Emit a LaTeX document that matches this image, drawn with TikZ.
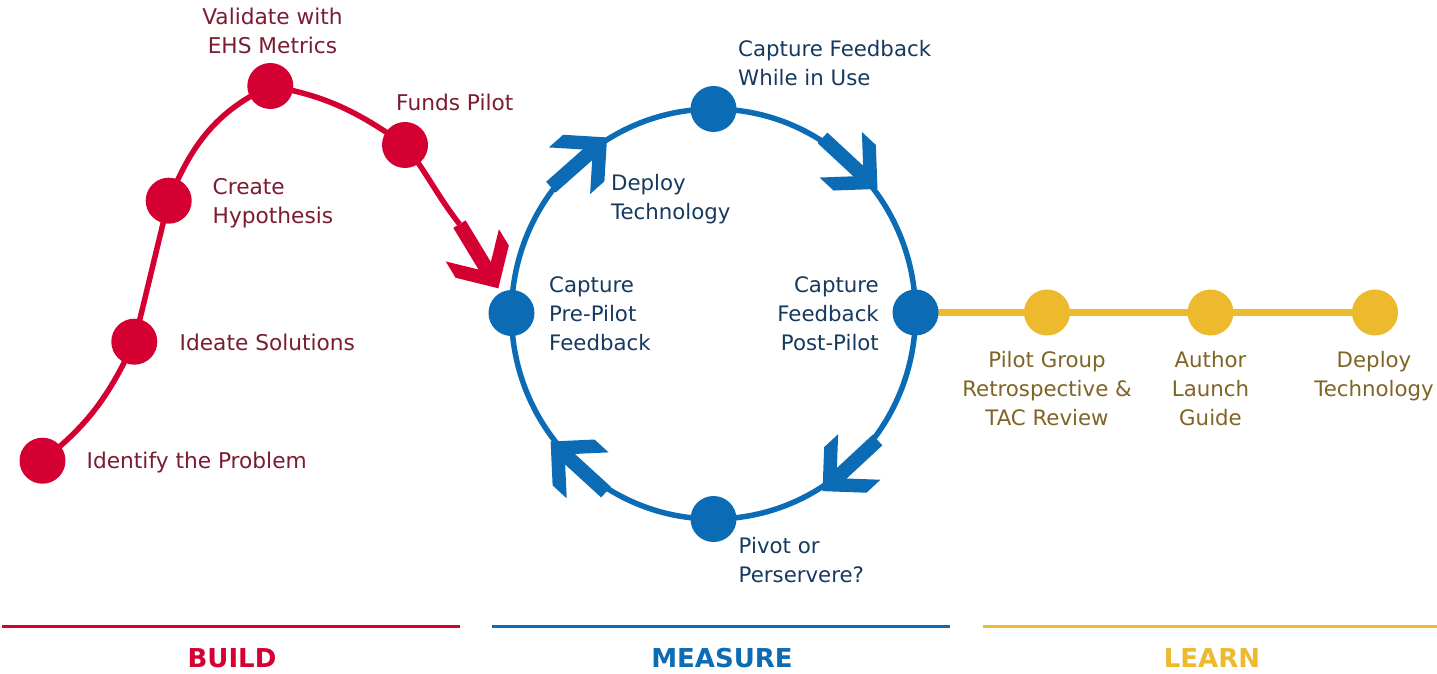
\documentclass[tikz,border=0pt]{standalone}
\usepackage{fontspec}
\setmainfont{DejaVu Sans}
\pgfdeclarelayer{bg}
\pgfsetlayers{bg,main}
\definecolor{redC}{HTML}{D50032}
\definecolor{redT}{HTML}{7B1C32}
\definecolor{blueC}{HTML}{0B6CB5}
\definecolor{blueT}{HTML}{163A5F}
\definecolor{yelC}{HTML}{EDBA2D}
\definecolor{yelT}{HTML}{7F6426}
\newcommand{\tp}{\rule{0pt}{17pt}}
\tikzset{
  chev/.pic={
    \fill (-37.5,-7.2) rectangle (21,7.2);
    \fill (37.5,0) -- (6.4,31.1) -- (-12.7,31.1) -- (18.4,0) -- (-12.7,-31.1) -- (6.4,-31.1) -- cycle;
  }
}
\begin{document}
\begin{tikzpicture}[x=1pt,y=1pt,
  dot/.style={circle, inner sep=0pt, minimum size=46pt, fill=#1},
  lbl/.style={inner sep=0pt, font=\fontsize{21.3}{29}\selectfont, text=#1},
  rlbl/.style={inner sep=0pt, font=\fontsize{21.7}{29}\selectfont, text=redT},
  big/.style={inner sep=0pt, font=\fontsize{26}{30}\selectfont\bfseries, text=#1},
  rule/.style={line width=3pt, #1}]
\useasboundingbox (0,0) rectangle (1437,673);

% ---------- BUILD ----------
\node[dot=redC] (id)   at (42.5,212.3) {};
\node[dot=redC] (ide)  at (134.3,331.3) {};
\node[dot=redC] (cre)  at (168.7,472.3) {};
\node[dot=redC] (val)  at (270.3,587) {};
\node[dot=redC] (fund) at (405,528) {};
\coordinate (rend) at (459.5,448.9);

\node[rlbl, anchor=north west] (tid) at (86.5,221.7) {\tp Identify the Problem};
\node[rlbl, anchor=north west] (tide) at (179.5,339.5) {\tp Ideate Solutions};
\node[rlbl, anchor=north west, align=left] (tcre) at (212.5,496) {\tp Create\\Hypothesis};
\node[rlbl, anchor=north, align=center] (tval) at (272.5,666) {\tp Validate with\\EHS Metrics};
\node[rlbl, anchor=north west] (tfund) at (396,579.3) {\tp Funds Pilot};

% ---------- MEASURE ----------
\coordinate (mc) at (713.5,359);
\node[dot=blueC] (ml) at (511.5,360) {};
\node[dot=blueC] (mr) at (915.5,360.5) {};
\node[dot=blueC] (mt) at (713.5,564) {};
\node[dot=blueC] (mb) at (713.5,154) {};

\node[lbl=blueT, anchor=north west, align=left] (tmt) at (738,634) {\tp Capture Feedback\\While in Use};
\node[lbl=blueT, anchor=north west, align=left] (tdep) at (611,500) {\tp Deploy\\Technology};
\node[lbl=blueT, anchor=north west, align=left] (tml) at (549,397.7) {\tp Capture\\Pre-Pilot\\Feedback};
\node[lbl=blueT, anchor=north east, align=right] (tmr) at (879,397.7) {\tp Capture\\Feedback\\Post-Pilot};
\node[lbl=blueT, anchor=north west, align=left] (tmb) at (738.5,136.7) {\tp Pivot or\\Perservere?};

% ---------- LEARN ----------
\node[dot=yelC] (y1) at (1047,360.5) {};
\node[dot=yelC] (y2) at (1210.5,360.5) {};
\node[dot=yelC] (y3) at (1375,360.5) {};

\node[lbl=yelT, anchor=north, align=center] (ty1) at (1047,322.7) {\tp Pilot Group\\Retrospective \&\\TAC Review};
\node[lbl=yelT, anchor=north, align=center] (ty2) at (1210.5,322.7) {\tp Author\\Launch\\Guide};
\node[lbl=yelT, anchor=north, align=center] (ty3) at (1374,322.7) {\tp Deploy\\Technology};

% ---------- connectors ----------
\begin{pgfonlayer}{bg}
  \fill[white] (0,0) rectangle (1437,673);
  \draw[redC, line width=5.5pt] (id.center) to[out=38,in=-115] (ide.center)
     to[out=76,in=-104] (cre.center) to[out=68,in=-155] (val.center)
     to[out=-10,in=145] (fund.center) to[out=-52,in=128] (rend);
  \pic[color=redC, rotate=-58.8] at (478.9,416.8) {chev};
  \draw[blueC, line width=5.5pt] (mc) ellipse [x radius=202, y radius=205];
  \pic[color=blueC, rotate=41.5]   at (579,510.7) {chev};
  \pic[color=blueC, rotate=-42.9]  at (850,509.6) {chev};
  \pic[color=blueC, rotate=-137.1] at (850,207.4) {chev};
  \pic[color=blueC, rotate=137.6]  at (578.3,206.2) {chev};
  \draw[yelC, line width=6pt] (mr.center) -- (y1.center) -- (y2.center) -- (y3.center);
\end{pgfonlayer}

% ---------- bottom ----------
\draw[rule=redC]  (2,47) -- (460,47);
\draw[rule=blueC] (492,47) -- (950,47);
\draw[rule=yelC]  (983,47) -- (1437,47);
\node[big=redC]  (build)   at (232,15) {BUILD};
\node[big=blueC] (measure) at (722,15) {MEASURE};
\node[big=yelC]  (learn)   at (1212,15) {LEARN};
\end{tikzpicture}
\end{document}
